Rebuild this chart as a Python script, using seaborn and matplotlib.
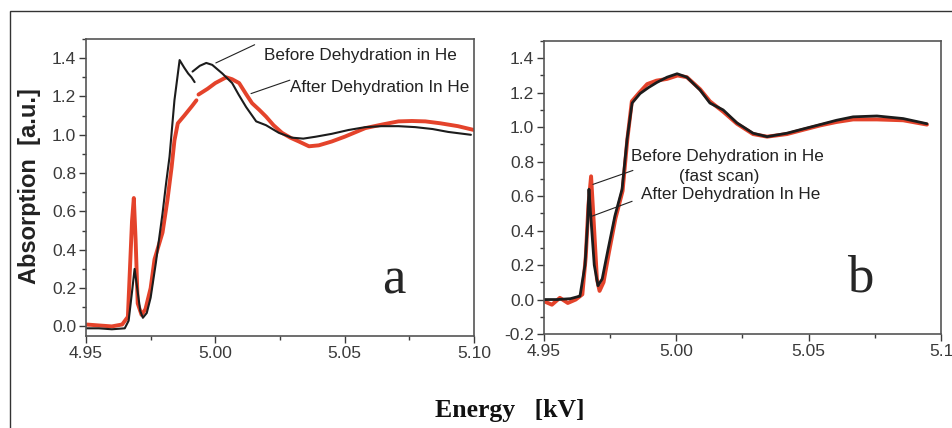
import numpy as np
import pandas as pd
import matplotlib
matplotlib.use("Agg")
import matplotlib.pyplot as plt
from matplotlib.patches import Rectangle
from matplotlib.ticker import MultipleLocator
import seaborn as sns

# ---- panel a : before (black) / after (red) dehydration ----
a_before_x1 = [4.950, 4.955, 4.960, 4.965, 4.9665, 4.9678, 4.9688, 4.9698, 4.971, 4.972, 4.9735,
               4.975, 4.977, 4.9796, 4.981, 4.9823, 4.9842, 4.9862, 4.988, 4.9895, 4.9908, 4.992]
a_before_y1 = [-0.01, -0.01, -0.015, -0.01, 0.03, 0.18, 0.30, 0.20, 0.08, 0.045, 0.07,
               0.15, 0.33, 0.59, 0.75, 0.885, 1.18, 1.39, 1.35, 1.32, 1.30, 1.275]
a_before_x2 = [4.9912, 4.994, 4.9965, 4.9988, 5.0027, 5.0065, 5.009, 5.0119, 5.0158, 5.0196, 5.0246,
               5.0296, 5.034, 5.0388, 5.045, 5.0515, 5.058, 5.0642, 5.0708, 5.0773, 5.084, 5.090, 5.0988]
a_before_y2 = [1.33, 1.36, 1.375, 1.365, 1.32, 1.27, 1.21, 1.145, 1.07, 1.05, 1.01,
               0.985, 0.98, 0.99, 1.005, 1.025, 1.04, 1.045, 1.045, 1.04, 1.03, 1.015, 1.00]

a_after_x1 = [4.950, 4.955, 4.960, 4.964, 4.9662, 4.967, 4.9678, 4.9685, 4.9692, 4.970, 4.9715, 4.973,
              4.975, 4.9765, 4.9796, 4.9815, 4.9831, 4.9842, 4.9855, 4.988, 4.991, 4.9927]
a_after_y1 = [0.01, 0.005, 0.0, 0.01, 0.05, 0.30, 0.55, 0.67, 0.45, 0.12, 0.06, 0.09,
              0.20, 0.35, 0.49, 0.66, 0.83, 0.97, 1.06, 1.10, 1.15, 1.18]
a_after_x2 = [4.9935, 4.997, 5.000, 5.0042, 5.0065, 5.0092, 5.012, 5.0142, 5.017, 5.0196, 5.0225, 5.0258,
              5.029, 5.0323, 5.0362, 5.040, 5.045, 5.050, 5.058, 5.065, 5.0708, 5.076, 5.0812, 5.087,
              5.0938, 5.100]
a_after_y2 = [1.21, 1.24, 1.27, 1.30, 1.29, 1.27, 1.21, 1.165, 1.13, 1.095, 1.05, 1.01,
              0.985, 0.965, 0.94, 0.945, 0.965, 0.99, 1.035, 1.055, 1.07, 1.072, 1.07, 1.06,
              1.045, 1.025]

# ---- panel b : fast scan before / after ----
b_before_x = [4.950, 4.955, 4.960, 4.9636, 4.9655, 4.9665, 4.967, 4.9676, 4.969, 4.9704, 4.972,
              4.9742, 4.9768, 4.9795, 4.9814, 4.9833, 4.9863, 4.9895, 4.9927, 4.9965, 5.0003,
              5.004, 5.009, 5.0127, 5.0177, 5.0229, 5.029, 5.0343, 5.0418, 5.048, 5.0543, 5.0605,
              5.0668, 5.0758, 5.0857, 5.0947]
b_before_y = [0.0, 0.0, 0.005, 0.02, 0.2, 0.45, 0.64, 0.5, 0.2, 0.08, 0.12,
              0.29, 0.485, 0.64, 0.93, 1.14, 1.195, 1.23, 1.26, 1.29, 1.31,
              1.29, 1.215, 1.14, 1.10, 1.025, 0.965, 0.945, 0.965, 0.99, 1.015, 1.04,
              1.06, 1.065, 1.05, 1.02]
b_after_x = [4.950, 4.953, 4.956, 4.959, 4.962, 4.9645, 4.9658, 4.9668, 4.9678, 4.9688, 4.970,
             4.971, 4.9725, 4.9745, 4.977, 4.9797, 4.9815, 4.9832, 4.986, 4.989, 4.9925, 4.9965,
             5.0005, 5.004, 5.009, 5.0127, 5.0177, 5.0229, 5.029, 5.0343, 5.0418, 5.048, 5.0543,
             5.0605, 5.0668, 5.0758, 5.0857, 5.0947]
b_after_y = [-0.01, -0.03, 0.01, -0.02, 0.0, 0.03, 0.25, 0.55, 0.715, 0.45, 0.12,
             0.05, 0.1, 0.27, 0.47, 0.63, 0.93, 1.15, 1.20, 1.25, 1.27, 1.28,
             1.30, 1.29, 1.22, 1.15, 1.09, 1.02, 0.96, 0.945, 0.96, 0.985, 1.01,
             1.03, 1.045, 1.045, 1.04, 1.015]

xticks_a = [4.95, 5.00, 5.05, 5.10]
xticklabels_a = ["4.95", "5.00", "5.05", "5.10"]
xticklabels_b = ["4.95", "5.00", "5.05", "5.1"]
yticks_a = [0.0, 0.2, 0.4, 0.6, 0.8, 1.0, 1.2, 1.4]
yticks_b = [-0.2, 0.0, 0.2, 0.4, 0.6, 0.8, 1.0, 1.2, 1.4]


def frame(x, y, series, seg):
    return pd.DataFrame({"energy": x, "absorption": y, "series": series, "seg": seg})


df_a = pd.concat([
    frame(a_after_x1, a_after_y1, "after", 1),
    frame(a_after_x2, a_after_y2, "after", 2),
    frame(a_before_x1, a_before_y1, "before", 3),
    frame(a_before_x2, a_before_y2, "before", 4),
])
df_b = pd.concat([
    frame(b_after_x, b_after_y, "after", 1),
    frame(b_before_x, b_before_y, "before", 2),
])

RED = "#e4432b"
BLACK = "#1c1c1c"
TICK_COL = "#3a3a3a"

sns.set_style("ticks")
plt.rcParams["font.family"] = ["Liberation Sans", "DejaVu Sans"]
plt.rcParams["axes.unicode_minus"] = False

fig = plt.figure(figsize=(9.53, 4.28), dpi=100)
ax_a = fig.add_axes([0.0902, 0.2150, 0.4072, 0.6939])
ax_b = fig.add_axes([0.5708, 0.2196, 0.4166, 0.6846])

sns.lineplot(data=df_a[df_a.series == "after"], x="energy", y="absorption", units="seg",
             estimator=None, color=RED, lw=2.8, ax=ax_a)
sns.lineplot(data=df_a[df_a.series == "before"], x="energy", y="absorption", units="seg",
             estimator=None, color=BLACK, lw=1.5, ax=ax_a)
sns.lineplot(data=df_b[df_b.series == "after"], x="energy", y="absorption", units="seg",
             estimator=None, color=RED, lw=2.8, ax=ax_b)
sns.lineplot(data=df_b[df_b.series == "before"], x="energy", y="absorption", units="seg",
             estimator=None, color=BLACK, lw=2.0, ax=ax_b)

for ax, ylo, yt, xl in [(ax_a, -0.05, yticks_a, xticklabels_a),
                        (ax_b, -0.2, yticks_b, xticklabels_b)]:
    ax.set_xticks(xticks_a)
    ax.set_xticklabels(xl)
    ax.set_yticks(yt)
    ax.set_yticklabels([f"{v:.1f}" for v in yt])
    ax.xaxis.set_minor_locator(MultipleLocator(0.025))
    ax.yaxis.set_minor_locator(MultipleLocator(0.1))
    ax.set_xlim(4.95, 5.10)
    ax.set_ylim(ylo, 1.5)
    ax.tick_params(which="both", direction="out", colors=TICK_COL, labelsize=12.5, width=1)
    ax.tick_params(which="major", length=5, pad=2)
    ax.tick_params(which="minor", length=3)
    for s in ax.spines.values():
        s.set_visible(True)
        s.set_color("#555555")
        s.set_linewidth(1.2)
    ax.set_xlabel("")
    ax.set_ylabel("")

# annotations panel a
ann = dict(fontsize=12.3, color="#222222")
ax_a.text(5.0187, 1.415, "Before Dehydration in He", va="center", ha="left", **ann)
ax_a.plot([5.0002, 5.0152], [1.375, 1.47], color="#222222", lw=0.8)
ax_a.text(5.0290, 1.245, "After Dehydration In He", va="center", ha="left", **ann)
ax_a.plot([5.0138, 5.0288], [1.215, 1.285], color="#222222", lw=0.8)
ax_a.text(5.069, 0.24, "a", fontsize=38, family="Liberation Serif", ha="center", va="center")

# annotations panel b
ax_b.text(4.9829, 0.83, "Before Dehydration in He", va="center", ha="left", **ann)
ax_b.text(5.0161, 0.715, "(fast scan)", va="center", ha="center", **ann)
ax_b.text(4.9867, 0.61, "After Dehydration In He", va="center", ha="left", **ann)
ax_b.plot([4.9685, 4.9836], [0.668, 0.749], color="#222222", lw=0.8)
ax_b.plot([4.9682, 4.9833], [0.484, 0.570], color="#222222", lw=0.8)
ax_b.text(5.0695, 0.12, "b", fontsize=38, family="Liberation Serif", ha="center", va="center")

fig.text(0.031, 0.565, "Absorption  [a.u.]", rotation=90, ha="center", va="center",
         fontsize=17, fontweight="bold", color="#222222")
fig.text(0.535, 0.04, "Energy   [kV]", ha="center", va="center", fontsize=18.5,
         fontweight="bold", family="Liberation Serif", color="#111111")

fig.patches.append(Rectangle((10 / 953, -0.05), 1.2, 1 - 11 / 428 + 0.05,
                             transform=fig.transFigure, fill=False, lw=1.0,
                             edgecolor="#333333"))

fig.savefig("out.png", dpi=100)
